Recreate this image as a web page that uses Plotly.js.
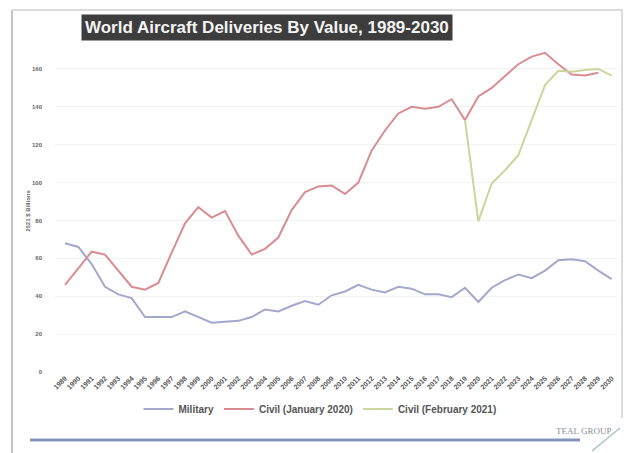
<!DOCTYPE html>
<html>
<head>
<meta charset="utf-8">
<script src="https://cdn.plot.ly/plotly-3.0.1.min.js"></script>
<style>html,body{margin:0;padding:0;background:#fff;}#chart{width:627px;height:453px;}</style>
</head>
<body>
<div id="chart"></div>
<script>
const years = [1989,1990,1991,1992,1993,1994,1995,1996,1997,1998,1999,2000,2001,2002,2003,2004,2005,2006,2007,2008,2009,2010,2011,2012,2013,2014,2015,2016,2017,2018,2019,2020,2021,2022,2023,2024,2025,2026,2027,2028,2029,2030];
const military = [68,66,57,45,41,39,29,29,29,32,29,26,26.5,27,29,33,32,35,37.5,35.5,40.5,42.5,46,43.5,42,45,44,41,41,39.5,44.5,37,44.5,48.5,51.5,49.5,53.5,59,59.5,58.5,53.5,49];
const civilJan2020 = [46,55,63.5,62,53.5,45,43.5,47,63,78.5,87,81.5,85,72,62,65,71,85.5,95,98,98.5,94,100,117,127.5,136.5,140,139,140,144,133,145.5,150,156,162.5,166.5,168.5,162.5,157,156.5,158,null];
const civilFeb2021 = [null,null,null,null,null,null,null,null,null,null,null,null,null,null,null,null,null,null,null,null,null,null,null,null,null,null,null,null,null,null,133,79.5,99.5,106.5,114.5,133,151.5,159,158.5,159.5,160,156.5];
const seriesNames = ['Military', 'Civil (January 2020)', 'Civil (February 2021)'];
const yTicks = [0,20,40,60,80,100,120,140,160];

const L = 55, T = 50, W = 562, H = 322;
const px = v => (v - L) / W;
const py = v => (T + H - v) / H;

const traces = [
  {x: years, y: military, name: '<b>' + seriesNames[0] + '</b>', type: 'scatter', mode: 'lines', line: {color: '#a3a8cc', width: 2}},
  {x: years, y: civilJan2020, name: '<b>' + seriesNames[1] + '</b>', type: 'scatter', mode: 'lines', line: {color: '#d98c91', width: 2}},
  {x: years, y: civilFeb2021, name: '<b>' + seriesNames[2] + '</b>', type: 'scatter', mode: 'lines', line: {color: '#cbd69e', width: 2}}
];

const layout = {
  width: 627, height: 453,
  margin: {l: L, r: 627 - L - W, t: T, b: 453 - T - H},
  paper_bgcolor: '#ffffff', plot_bgcolor: '#ffffff',
  font: {family: 'Liberation Sans, Arial, sans-serif', color: '#555'},
  showlegend: true,
  legend: {orientation: 'h', x: px(320), xanchor: 'center', y: py(409), yanchor: 'middle',
           font: {size: 10, color: '#555', family: 'Liberation Sans, Arial, sans-serif'},
           itemwidth: 30, traceorder: 'normal'},
  xaxis: {range: [1988.25, 2030.4], tickmode: 'array', tickvals: years, ticktext: years.map(String),
          tickangle: -45, tickfont: {size: 7, color: '#555', weight: 'bold'}, showgrid: false, zeroline: false, showline: false, ticks: ''},
  yaxis: {range: [0, 170], tickmode: 'array', tickvals: yTicks, tickfont: {size: 6, color: '#666', weight: 'bold'},
          gridcolor: '#f2f2f2', zeroline: false, showline: false, ticks: '', ticklabelstandoff: 12,
          title: {text: '2021 $ Billions', font: {size: 6, color: '#666', weight: 'bold'}, standoff: 0}},
  annotations: [
    {text: '<b>World Aircraft Deliveries By Value, 1989-2030</b>', xref: 'paper', yref: 'paper', x: px(267), y: py(28),
     xanchor: 'center', yanchor: 'middle', showarrow: false, bgcolor: '#3d3d3d', borderpad: 3,
     font: {family: 'Liberation Sans, Arial, sans-serif', size: 17, color: '#f4f4f4'}},
    {text: 'TEAL GROUP', xref: 'paper', yref: 'paper', x: px(583), y: py(431), xanchor: 'center', yanchor: 'middle',
     showarrow: false, font: {family: 'Liberation Serif, Times New Roman, serif', size: 9, color: '#8a8f99'}}
  ],
  shapes: [
    {type: 'line', xref: 'paper', yref: 'paper', x0: px(12), x1: px(12), y0: py(10), y1: py(453), line: {color: '#c4c4c4', width: 2}},
    {type: 'line', xref: 'paper', yref: 'paper', x0: px(12), x1: px(623), y0: py(10), y1: py(10), line: {color: '#d0d0d0', width: 1.5}},
    {type: 'line', xref: 'paper', yref: 'paper', x0: px(622), x1: px(622), y0: py(10), y1: py(418), line: {color: '#d0d0d0', width: 1.5}},
    {type: 'line', xref: 'paper', yref: 'paper', x0: px(30), x1: px(580), y0: py(440), y1: py(440), line: {color: '#8592bd', width: 3}},
    {type: 'line', xref: 'paper', yref: 'paper', x0: px(592), x1: px(620), y0: py(451), y1: py(428), line: {color: '#a7c4c0', width: 1.5}}
  ]
};

Plotly.newPlot('chart', traces, layout, {displayModeBar: false, staticPlot: true});
</script>
</body>
</html>
